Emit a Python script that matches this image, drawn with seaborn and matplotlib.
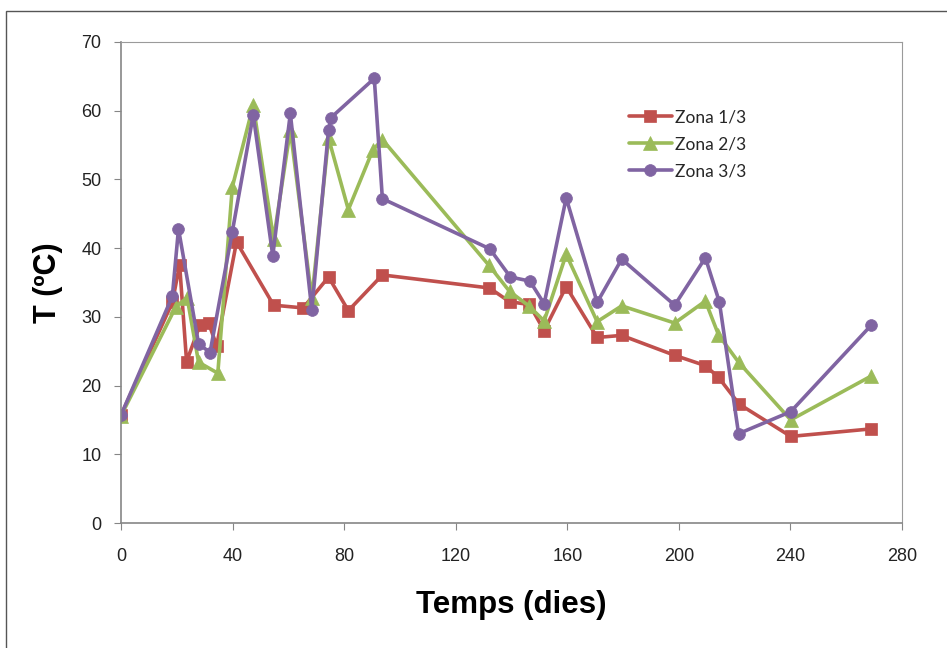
import numpy as np
import pandas as pd
import matplotlib
matplotlib.use('Agg')
import matplotlib.pyplot as plt
import seaborn as sns
from matplotlib.patches import Rectangle

''' DATA '''
dies_z1 = [0, 18.4, 21.0, 23.5, 28.3, 31.4, 34.3, 41.4, 54.7, 65.3, 74.4, 81.5, 93.7,
           132.1, 139.3, 146.4, 151.7, 159.6, 170.7, 179.5, 198.5, 209.5, 214.2, 221.6, 240.1, 269.0]
temp_z1 = [15.7, 32.1, 37.6, 23.5, 28.8, 29.1, 25.8, 40.9, 31.7, 31.3, 35.8, 30.9, 36.1,
           34.2, 32.2, 31.8, 28.0, 34.4, 27.0, 27.3, 24.4, 22.9, 21.2, 17.3, 12.6, 13.7]

dies_z2 = [0, 19.7, 23.7, 27.8, 34.7, 39.9, 47.4, 54.7, 60.7, 68.4, 74.4, 81.5, 90.3, 93.7,
           131.9, 139.3, 146.2, 151.7, 159.6, 170.7, 179.5, 198.5, 209.5, 214.2, 221.4, 240.1, 269.0]
temp_z2 = [15.6, 31.5, 32.8, 23.4, 21.8, 48.9, 60.8, 41.3, 57.2, 32.7, 56.0, 45.6, 54.3, 55.8,
           37.5, 33.7, 31.6, 29.4, 39.1, 29.3, 31.6, 29.1, 32.3, 27.4, 23.4, 15.0, 21.4]

dies_z3 = [0, 18.4, 20.6, 27.8, 31.9, 39.9, 47.4, 54.4, 60.7, 68.4, 74.4, 75.3, 90.8, 93.7,
           132.2, 139.6, 146.6, 151.7, 159.6, 170.7, 179.5, 198.5, 209.5, 214.5, 221.4, 240.1, 269.0]
temp_z3 = [15.7, 33.0, 42.8, 26.1, 24.8, 42.4, 59.4, 38.9, 59.6, 31.0, 57.2, 59.0, 64.7, 47.2,
           39.9, 35.8, 35.2, 31.9, 47.3, 32.1, 38.4, 31.7, 38.6, 32.2, 13.0, 16.2, 28.8]

noms = ['Zona 1/3', 'Zona 2/3', 'Zona 3/3']
colors = ['#C0504D', '#9BBB59', '#8064A2']
markers = ['s', '^', 'o']
msizes = [8, 10, 8.5]

''' PLOT '''
sns.set_style('white')
plt.rcParams['font.family'] = ['Liberation Sans', 'DejaVu Sans']

fig = plt.figure(figsize=(9.47, 6.48), dpi=100)
ax = fig.add_axes([0.1278, 0.1929, 0.8247, 0.7423])

series = [(dies_z1, temp_z1), (dies_z2, temp_z2), (dies_z3, temp_z3)]
for (x, y), nom, c, m, ms in zip(series, noms, colors, markers, msizes):
    df = pd.DataFrame({'dies': x, 'T': y})
    sns.lineplot(data=df, x='dies', y='T', sort=False, ax=ax, color=c, lw=2.6,
                 marker=m, markersize=ms, markeredgecolor=c, markeredgewidth=0.5,
                 label=nom)

ax.set_xlim(0, 280)
ax.set_ylim(0, 70)
ax.set_xticks(np.arange(0, 281, 40))
ax.set_yticks(np.arange(0, 71, 10))
ax.tick_params(axis='both', which='major', direction='out', length=5, width=0.8,
               color='#868686', labelsize=13, labelcolor='#222222',
               bottom=True, left=True)
ax.tick_params(axis='x', pad=13)
ax.tick_params(axis='y', pad=9)
for lab in ax.get_xticklabels() + ax.get_yticklabels():
    lab.set_family(['Liberation Sans Narrow', 'Liberation Sans', 'DejaVu Sans'])

for side in ['left', 'bottom']:
    ax.spines[side].set_color('#868686')
    ax.spines[side].set_linewidth(1.2)
for side in ['top', 'right']:
    ax.spines[side].set_color('#9a9a9a')
    ax.spines[side].set_linewidth(0.8)

ax.set_xlabel('Temps (dies)', fontsize=22.5, fontweight='bold', labelpad=18, color='black')
ax.set_ylabel('T (ºC)', fontsize=22, fontweight='bold', labelpad=13, color='black')

leg = ax.legend(loc='upper left', bbox_to_anchor=(0.63, 0.892), frameon=False,
                handlelength=2.5, labelspacing=0.62, handletextpad=0.15,
                prop={'family': ['Lato', 'DejaVu Sans'], 'size': 12.5})

# outer chart frame
fig.patches.append(Rectangle((6 / 947, -0.05), 1.2, 1 - 11 / 648 + 0.05,
                             transform=fig.transFigure, fill=False,
                             edgecolor='#555555', lw=1.0))

plt.savefig('out.png', dpi=100)
